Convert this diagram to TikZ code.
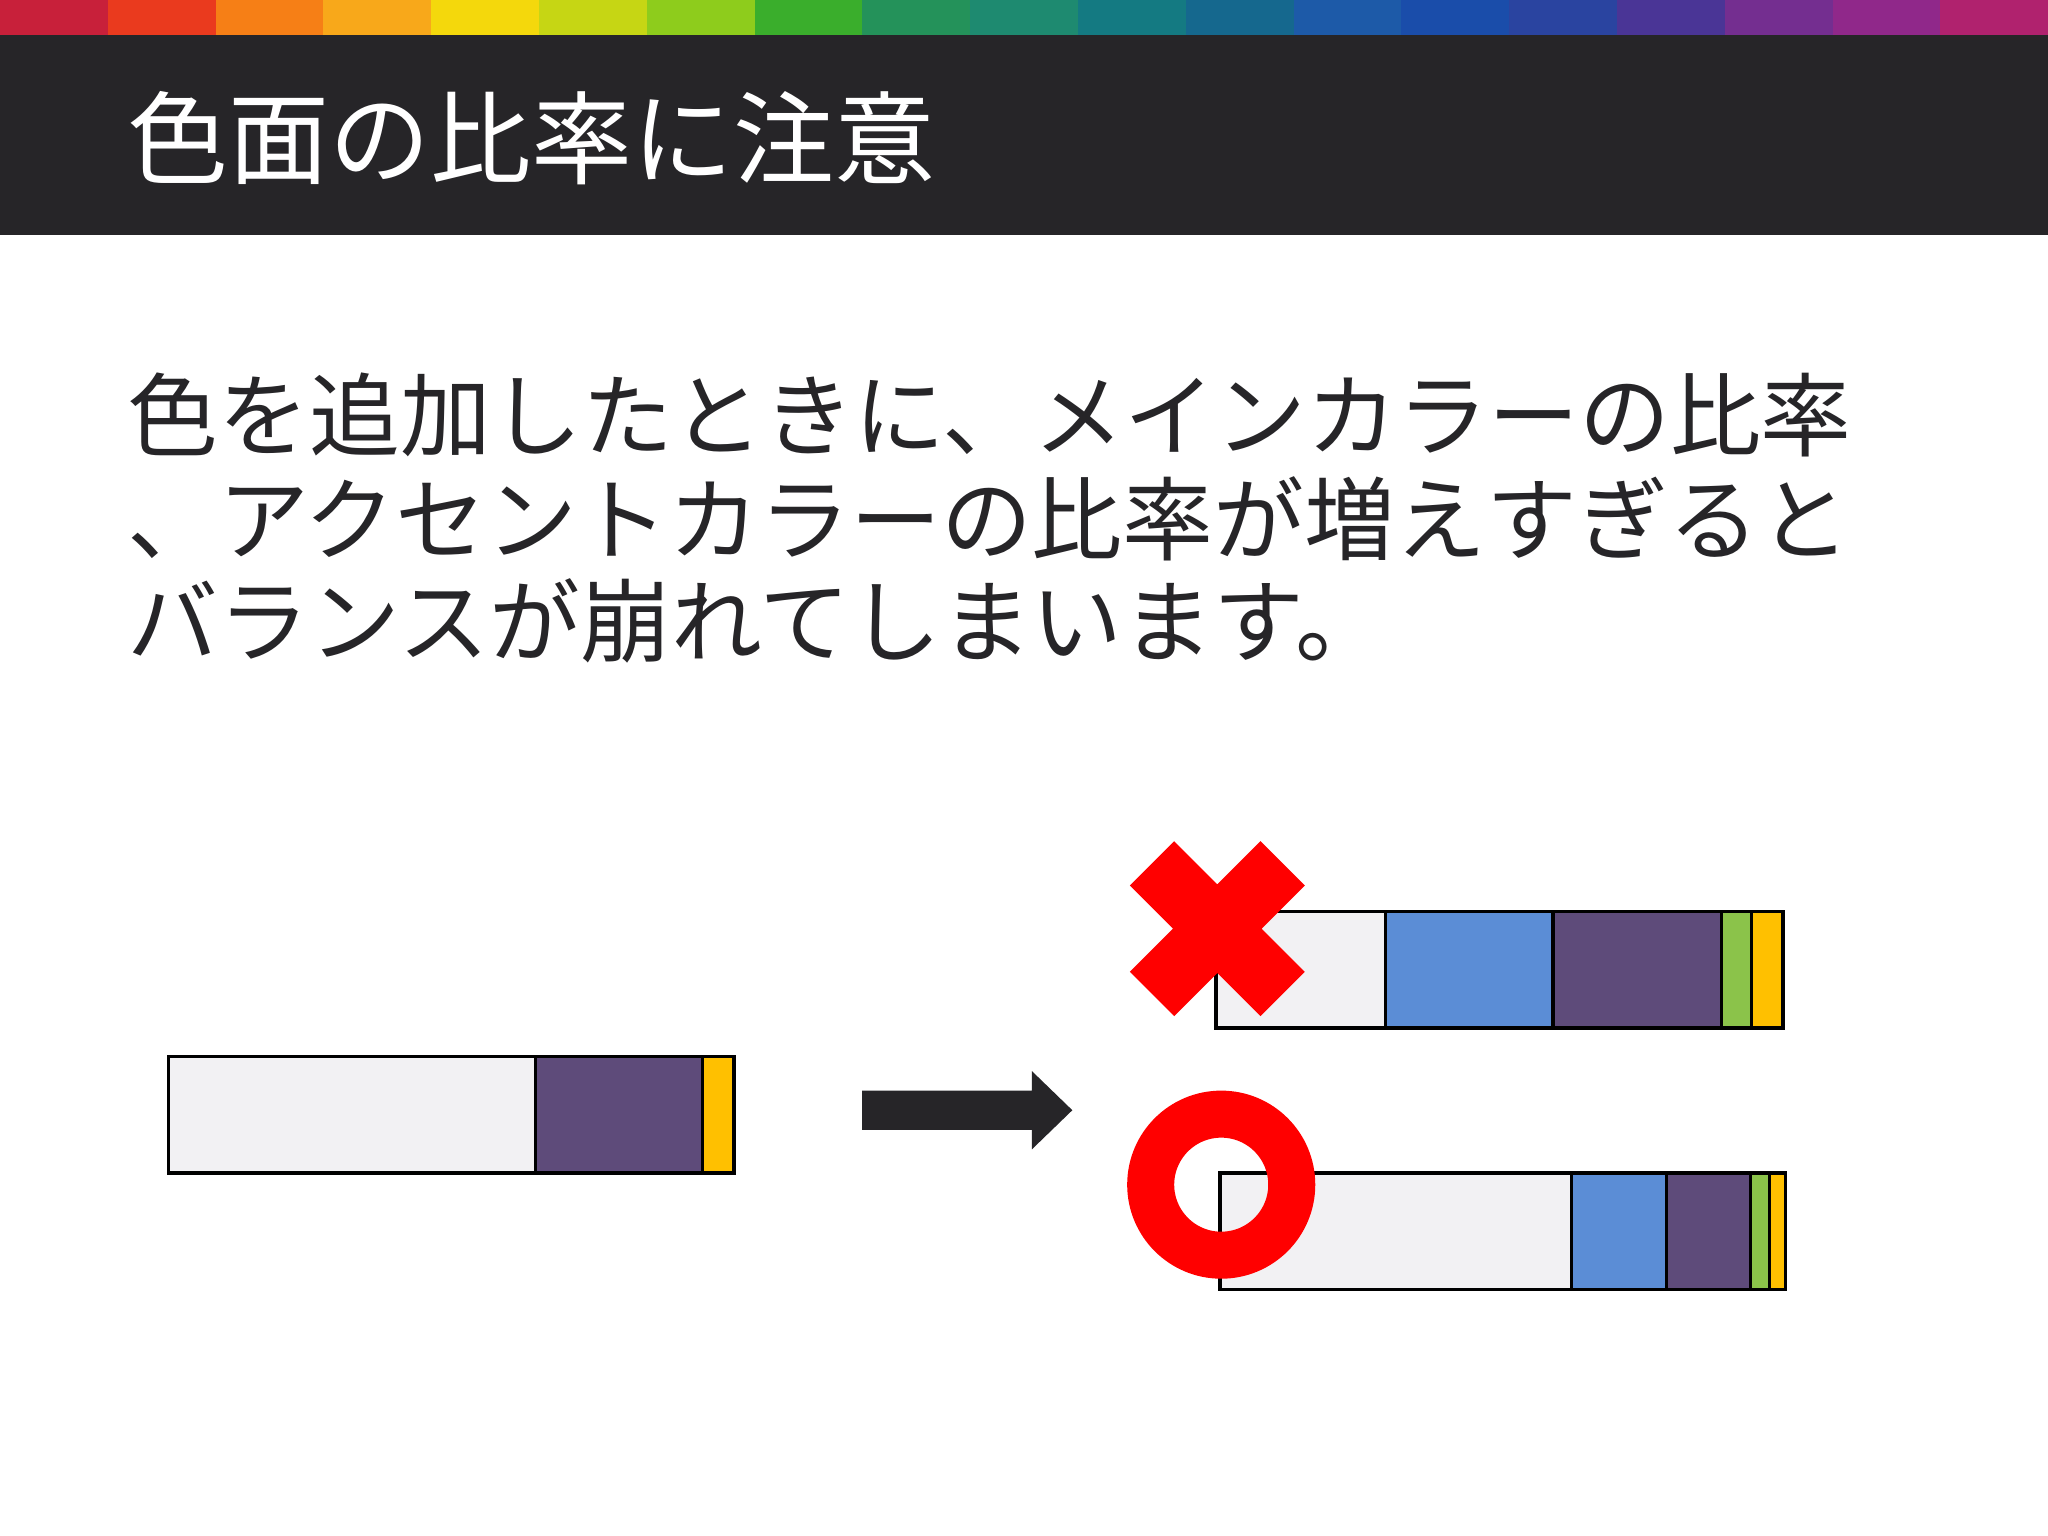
\documentclass[tikz,border=0pt]{standalone}
\usepackage{fontspec}
\newfontfamily\cjk{Noto Sans CJK JP}
\definecolor{dark}{HTML}{262528}
\definecolor{lgray}{HTML}{F2F1F3}
\definecolor{cpur}{HTML}{5E4B7A}
\definecolor{cyel}{HTML}{FFC000}
\definecolor{cblue}{HTML}{5B8DD6}
\definecolor{cgreen}{HTML}{8BC34A}
\definecolor{cred}{HTML}{FF0000}
\tikzset{seg/.style={draw=black,line width=0.25mm},
  body/.style={anchor=west,inner sep=0,font=\cjk\fontsize{19.8pt}{20pt}\selectfont,text=dark}}
\begin{document}
\begin{tikzpicture}[x=0.1mm,y=-0.1mm]
\useasboundingbox (0,0) rectangle (1568,1176);
\fill[white] (0,0) rectangle (1568,1176);
\foreach \c [count=\i from 0] in {C8203A,EA3A1E,F67F16,F8A81A,F4D80C,C6D614,8ECC1C,3AAE2C,24925A,1E8A70,147A82,15688E,1D5AA8,1A4DAA,2A44A0,4A3596,742E90,90288A,B0226E}
  {\definecolor{tmp}{HTML}{\c}\fill[tmp] (\i*82.53,0) rectangle (\i*82.53+83.5,27);}
\fill[dark] (0,27) rectangle (1568,180);
\node[anchor=west,inner sep=0,text=white,font=\cjk\fontsize{22pt}{24pt}\selectfont] (title) at (97,106) {色面の比率に注意};
\node[body] (l1) at (97,318) {色を追加したときに、メインカラーの比率};
\node[body] (l2) at (97,397) {、アクセントカラーの比率が増えすぎると};
\node[body] (l3) at (97,475) {バランスが崩れてしまいます。};
% left bar
\draw[seg,fill=lgray] (129,809) rectangle (410,898);
\draw[seg,fill=cpur] (410,809) rectangle (538,898);
\draw[seg,fill=cyel] (538,809) rectangle (562,898);
% arrow
\fill[dark] (660,835) -- (790,835) -- (790,820) -- (821,850) -- (790,880) -- (790,865) -- (660,865) -- cycle;
% top bar
\draw[seg,fill=lgray] (931,698) rectangle (1061,787);
\draw[seg,fill=cblue] (1061,698) rectangle (1189,787);
\draw[seg,fill=cpur] (1189,698) rectangle (1318,787);
\draw[seg,fill=cgreen] (1318,698) rectangle (1341,787);
\draw[seg,fill=cyel] (1341,698) rectangle (1365,787);
% bottom bar
\draw[seg,fill=lgray] (934,898) rectangle (1203,987);
\draw[seg,fill=cblue] (1203,898) rectangle (1276,987);
\draw[seg,fill=cpur] (1276,898) rectangle (1340,987);
\draw[seg,fill=cgreen] (1340,898) rectangle (1355,987);
\draw[seg,fill=cyel] (1355,898) rectangle (1367,987);
% marks
\draw[cred,line width=4.8mm] (882,661) -- (982,761) (982,661) -- (882,761);
\draw[cred,line width=3.6mm] (935,907) circle (54);
\end{tikzpicture}
\end{document}
